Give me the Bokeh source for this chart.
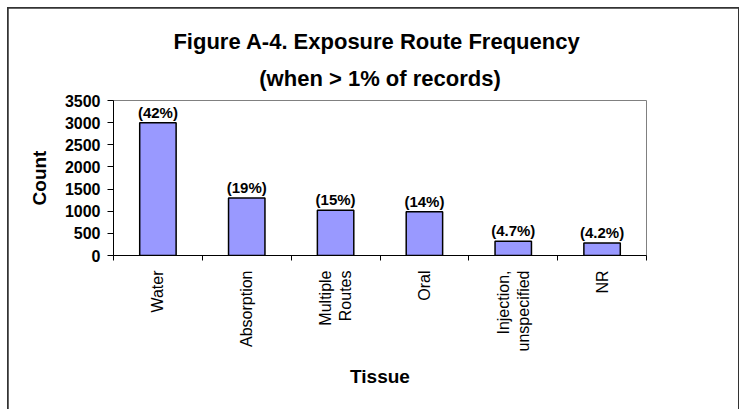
import math
from bokeh.plotting import figure
from bokeh.models import ColumnDataSource, FixedTicker, Range1d, Title
from bokeh.core.properties import value
from bokeh.embed import file_html
from bokeh.resources import INLINE

categories = ["Water", "Absorption", "Multiple\nRoutes", "Oral", "Injection,\nunspecified", "NR"]
counts = [3000, 1300, 1020, 990, 320, 280]
percent_labels = ["(42%)", "(19%)", "(15%)", "(14%)", "(4.7%)", "(4.2%)"]
y_ticks = [0, 500, 1000, 1500, 2000, 2500, 3000, 3500]

FONT = "Liberation Sans"

xs = [i + 0.5 for i in range(len(categories))]
src = ColumnDataSource(dict(x=xs, count=counts, pct=percent_labels))

p = figure(width=730, height=401, output_backend="svg", toolbar_location=None,
           x_range=Range1d(0, len(categories)), y_range=Range1d(0, 3500),
           min_border_left=105, min_border_right=92, min_border_top=92, min_border_bottom=154)
p.margin = (8, 8, 0, 8)

p.add_layout(Title(text="(when > 1% of records)", align="center", text_font=FONT,
                   text_font_size="22px", text_font_style="bold", text_color="black",
                   standoff=20), "above")
p.add_layout(Title(text="Figure A-4.  Exposure Route Frequency", align="center", text_font=FONT,
                   text_font_size="22px", text_font_style="bold", text_color="black",
                   standoff=0), "above")

p.vbar(x="x", top="count", width=0.41, source=src, fill_color="#9999FF",
       line_color="black", line_width=1.5)
p.text(x="x", y="count", text="pct", source=src, text_align="center", text_baseline="bottom",
       y_offset=-2, text_font=value(FONT), text_font_size="15px", text_font_style="bold",
       text_color="black")

p.xgrid.visible = False
p.ygrid.visible = False
p.outline_line_color = "#808080"
p.outline_line_width = 1
p.background_fill_color = "white"
p.border_fill_color = "white"
p.styles = {"outline": "2px solid #333333", "outline-offset": "-1px"}

ya = p.yaxis[0]
ya.ticker = FixedTicker(ticks=y_ticks)
ya.major_tick_out = 6
ya.major_tick_in = 0
ya.minor_tick_out = 0
ya.minor_tick_in = 0
ya.axis_line_color = "black"
ya.major_tick_line_color = "black"
ya.major_label_text_font = FONT
ya.major_label_text_font_size = "16px"
ya.major_label_text_font_style = "bold"
ya.major_label_text_color = "black"
ya.major_label_standoff = 7
ya.axis_label = "Count"
ya.axis_label_text_font = FONT
ya.axis_label_text_font_size = "19px"
ya.axis_label_text_font_style = "bold"
ya.axis_label_text_color = "black"
ya.axis_label_standoff = 12

xa = p.xaxis[0]
xa.ticker = FixedTicker(ticks=xs, minor_ticks=list(range(len(categories) + 1)))
xa.major_label_overrides = {x: c for x, c in zip(xs, categories)}
xa.major_label_orientation = math.pi / 2
xa.major_tick_out = 0
xa.major_tick_in = 0
xa.minor_tick_out = 5
xa.minor_tick_in = 0
xa.minor_tick_line_color = "black"
xa.axis_line_color = "black"
xa.major_label_text_font = FONT
xa.major_label_text_font_size = "16px"
xa.major_label_text_color = "black"
xa.major_label_standoff = 10
xa.axis_label = "Tissue"
xa.axis_label_text_font = FONT
xa.axis_label_text_font_size = "19px"
xa.axis_label_text_font_style = "bold"
xa.axis_label_text_color = "black"
xa.axis_label_standoff = 12

open("out.html", "w").write(file_html(p, INLINE))
